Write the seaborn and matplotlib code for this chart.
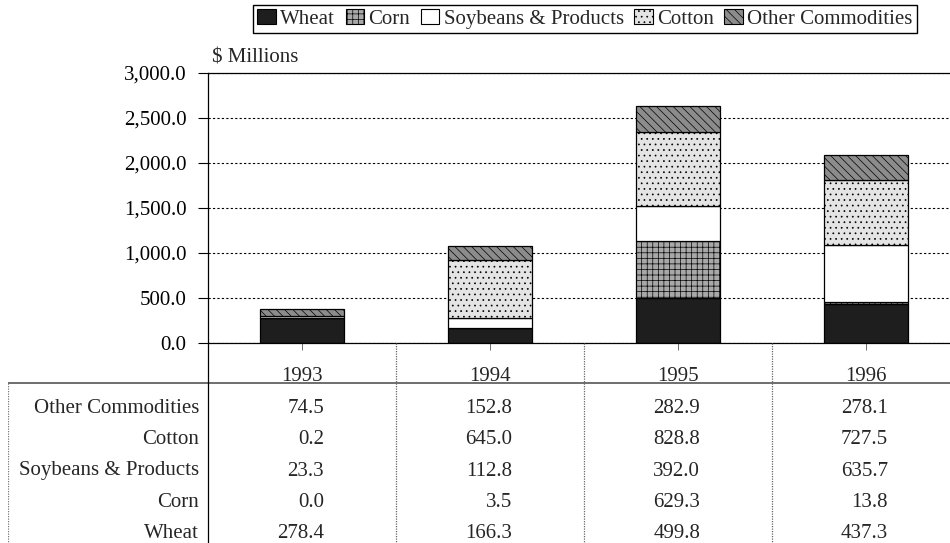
import matplotlib
matplotlib.use("Agg")
import matplotlib.pyplot as plt
import seaborn as sns
from matplotlib.patches import Patch
from matplotlib.ticker import FuncFormatter, MultipleLocator

# Data (US$ millions)
years = ['1993', '1994', '1995', '1996']
wheat = [278.4, 166.3, 499.8, 437.3]
corn = [0.0, 3.5, 629.3, 13.8]
soybeans = [23.3, 112.8, 392.0, 635.7]
cotton = [0.2, 645.0, 828.8, 727.5]
other = [74.5, 152.8, 282.9, 278.1]

series_names = ['Wheat', 'Corn', 'Soybeans & Products', 'Cotton', 'Other Commodities']
series_values = [wheat, corn, soybeans, cotton, other]
series_colors = ['#1e1e1e', '#a8a8a8', '#ffffff', '#e4e4e4', '#8c8c8c']
series_hatch = [None, '+++', None, '...', '\\\\\\\\']

# Setup
sns.set_theme(style="ticks")
plt.rcParams['font.family'] = ['Liberation Serif', 'DejaVu Serif']
plt.rcParams['hatch.linewidth'] = 0.5
FS = 15

W, H = 950, 543
fig = plt.figure(figsize=(W / 100, H / 100), dpi=100)

def fx(px):
    return px / W

def fy(py):
    return 1 - py / H

# Chart area (right side is cut off like the source)
ax = fig.add_axes([fx(208), fy(343), (960 - 208) / W, (343 - 73) / H])

bottom = [0.0] * len(years)
for name, vals, col, hat in zip(series_names, series_values, series_colors, series_hatch):
    sns.barplot(x=years, y=vals, bottom=bottom, ax=ax, color=col, hatch=hat,
                edgecolor='black', linewidth=0.9, width=0.45, errorbar=None,
                saturation=1)
    bottom = [b + v for b, v in zip(bottom, vals)]

ax.set_xlim(-0.5, 3.5)
ax.set_ylim(0, 3000)
ax.yaxis.set_major_locator(MultipleLocator(500))
ax.yaxis.set_major_formatter(FuncFormatter(lambda v, p: f"{v:,.1f}"))
ax.set_xlabel('')
ax.set_ylabel('')
ax.set_xticks(range(len(years)))
ax.set_xticklabels([])
ax.tick_params(axis='y', direction='out', length=7, width=0.8, pad=8.5,
               labelsize=FS, colors='black')
ax.tick_params(axis='x', direction='out', length=5, width=0.6, colors='#555555')
ax.yaxis.grid(True, linestyle=(0, (2, 2)), color='black', linewidth=0.8)
ax.set_axisbelow(True)
for s in ['left', 'bottom', 'top']:
    ax.spines[s].set_visible(True)
    ax.spines[s].set_color('black')
    ax.spines[s].set_linewidth(0.9)
ax.spines['right'].set_visible(False)

fig.text(fx(212), fy(63), '\\$ Millions', fontsize=FS, va='baseline', ha='left')

# Legend
handles = [Patch(facecolor=c, edgecolor='black', hatch=h, linewidth=0.8)
           for c, h in zip(series_colors, series_hatch)]
fig.legend(handles, series_names, loc='center', bbox_to_anchor=(fx(585), fy(19)),
           ncol=5, frameon=True, fancybox=False, edgecolor='black', framealpha=1,
           handlelength=0.9, handleheight=0.7, handletextpad=0.2, columnspacing=0.5,
           borderpad=0.2, borderaxespad=0, fontsize=FS)

# Data table below the chart
row_names = ['Other Commodities', 'Cotton', 'Soybeans & Products', 'Corn', 'Wheat']
row_values = [other, cotton, soybeans, corn, wheat]

cell = 188.0
tax = fig.add_axes([fx(8), 0, (960 - 8) / W, 200 / H])
tax.set_xlim(-0.5 - 200 / cell, 3.5)
tax.set_ylim(200, 0)
tax.axis('off')

tax.plot([-0.5 - 200 / cell, 3.5], [40, 40], color='#555555', lw=1.2)
tax.plot([-0.5, -0.5], [0, 200], color='black', lw=0.9)
tax.plot([-0.5 - 200 / cell] * 2, [40, 200], color='#777777', lw=0.9, ls=(0, (1, 1)))
for xb in [0.5, 1.5, 2.5]:
    tax.plot([xb, xb], [0, 200], color='#666666', lw=0.9, ls=(0, (1, 1)))

for i, yr in enumerate(years):
    tax.text(i, 38, yr, fontsize=FS, ha='center', va='baseline')

for r, (name, vals) in enumerate(zip(row_names, row_values)):
    yb = 70 + 31.25 * r
    tax.text(-0.5 - 9 / cell, yb, name, fontsize=FS, ha='right', va='baseline')
    for i, v in enumerate(vals):
        tax.text(i + 22 / cell, yb, f"{v:.1f}", fontsize=FS, ha='right', va='baseline')

fig.savefig('out.png', dpi=100)
